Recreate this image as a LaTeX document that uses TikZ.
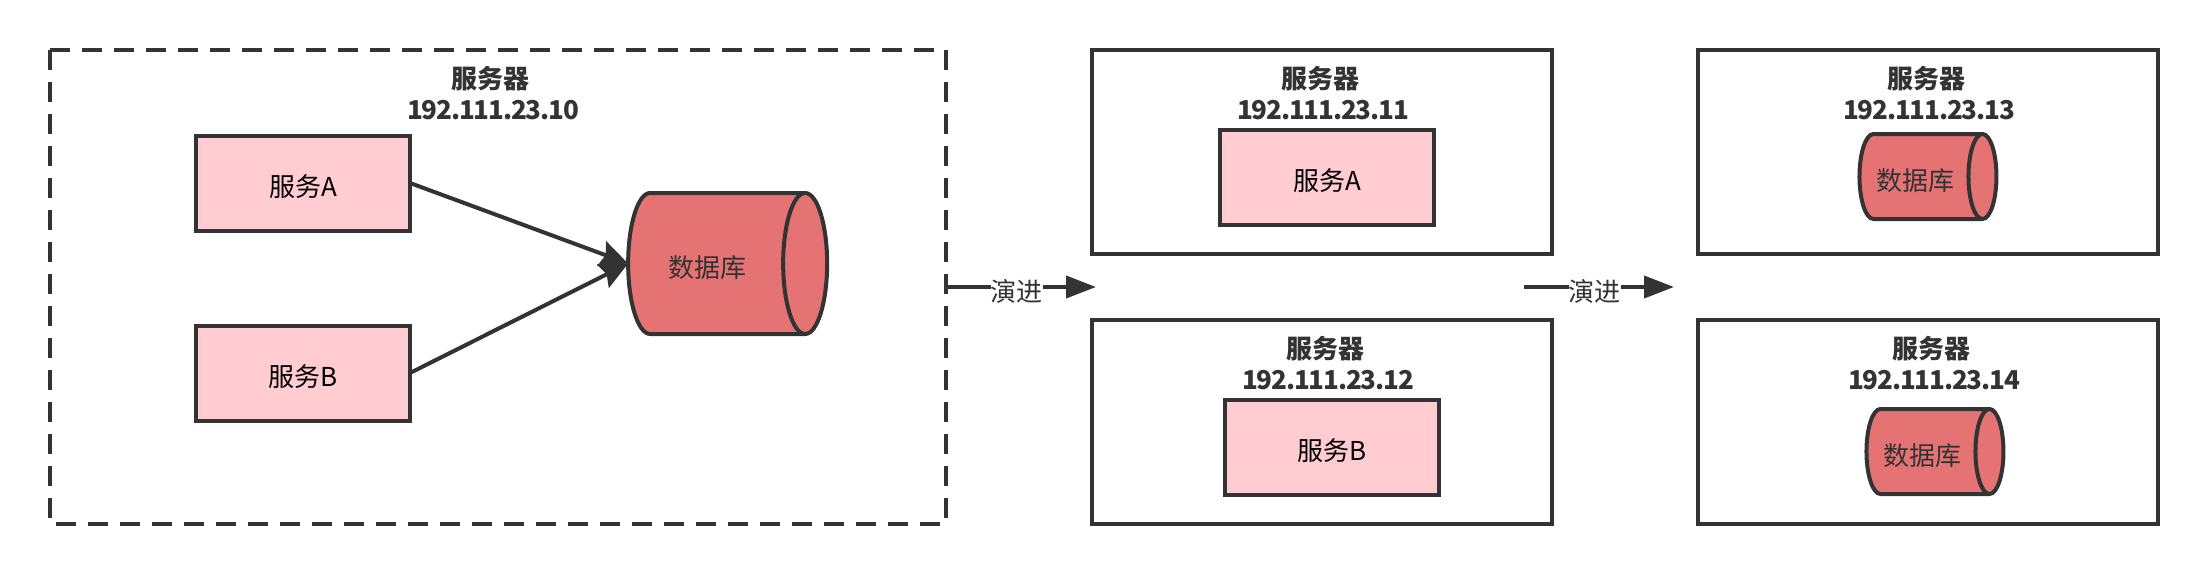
\documentclass[tikz,border=0pt]{standalone}
\usepackage{fontspec}
\setmainfont{Noto Sans CJK SC}
\usepackage{xcolor}
\usetikzlibrary{arrows.meta,shapes.geometric}
\definecolor{Ink}{HTML}{333333}
\definecolor{Pink}{HTML}{FFCCD2}
\definecolor{Rose}{HTML}{E57373}
\newcommand{\lowlabel}[1]{\raisebox{-6.8pt}[0pt][0pt]{#1}}
\tikzset{
  serverbox/.style={draw=Ink,line width=2pt,minimum width=230pt,minimum height=102pt,outer sep=0pt},
  servicebox/.style={draw=Ink,fill=Pink,line width=2pt,minimum width=107pt,minimum height=47.5pt,outer sep=0pt},
  dbshape/.style={cylinder,draw=Ink,fill=Rose,line width=2pt,inner sep=2pt,outer sep=0pt,text=Ink},
  titletext/.style={align=center,inner sep=0pt,text=Ink,font=\fontsize{13}{15.5}\selectfont\bfseries},
  dashline/.style={draw=Ink,line width=2pt,dash pattern=on 10pt off 6pt},
  flowline/.style={draw=Ink,line width=2pt,-{Triangle[length=15pt,width=11pt]}},
  linkline/.style={draw=Ink,line width=2pt,-{Stealth[length=14pt,width=13pt,inset=2pt]}},
}
\begin{document}
\begin{tikzpicture}[x=0.5pt,y=-0.5pt,font=\fontsize{13}{15.5}\selectfont]
  \useasboundingbox (0,0) rectangle (2208,574);
  \node[serverbox,draw=none,minimum width=448pt,minimum height=237pt] (srvold) at (498,287) {};
  \draw[dashline] (srvold.north west) -- (srvold.north east) -- (srvold.south east) -- (srvold.south west) -- cycle;
  \foreach \n/\x/\y in {srvmida/1322/152,srvmidb/1322/422,srvdba/1928/152,srvdbb/1928/422} {
    \node[serverbox] (\n) at (\x,\y) {};
  }
  \foreach \n/\x/\y/\ip in {tolda/493/93/10,tmida/1323/93/11,tmidb/1328/363/12,tdba/1929/93/13,tdbb/1934/363/14} {
    \node[titletext] (\n) at (\x,\y) {服务器\kern3pt\\{\addfontfeature{LetterSpace=-4.5}192.111.23.\ip}};
  }
  \foreach \n/\x/\y/\t in {svca/303/183/A,svcb/303/373/B,svcmida/1327/177/A,svcmidb/1332/447/B} {
    \node[servicebox] (\n) at (\x,\y) {\lowlabel{服务\t}};
  }
  \node[dbshape,shape aspect=5.5,minimum width=70.5pt,minimum height=99.5pt] (db) at (712,263.5) {\lowlabel{数据库}\kern5pt};
  \foreach \n/\x/\y in {dba/1917/176.5,dbb/1924/451.5} {
    \node[dbshape,shape aspect=3.5,minimum width=42.5pt,minimum height=68.5pt] (\n) at (\x,\y) {\lowlabel{数据库}\kern2pt};
  }
  \draw[linkline] (svca.east) -- (db.west);
  \draw[linkline] (svcb.east) -- (db.west);
  \coordinate (flowenda) at (1096,287);
  \coordinate (flowstartb) at (1524,287);
  \coordinate (flowendb) at (1674,287);
  \draw[flowline] (srvold.east) -- (flowenda)
    node[pos=0.47,yshift=-2pt,fill=white,inner sep=0pt,text=Ink] (labela) {演进};
  \draw[flowline] (flowstartb) -- (flowendb)
    node[pos=0.47,yshift=-2pt,fill=white,inner sep=0pt,text=Ink] (labelb) {演进};
\end{tikzpicture}
\end{document}
